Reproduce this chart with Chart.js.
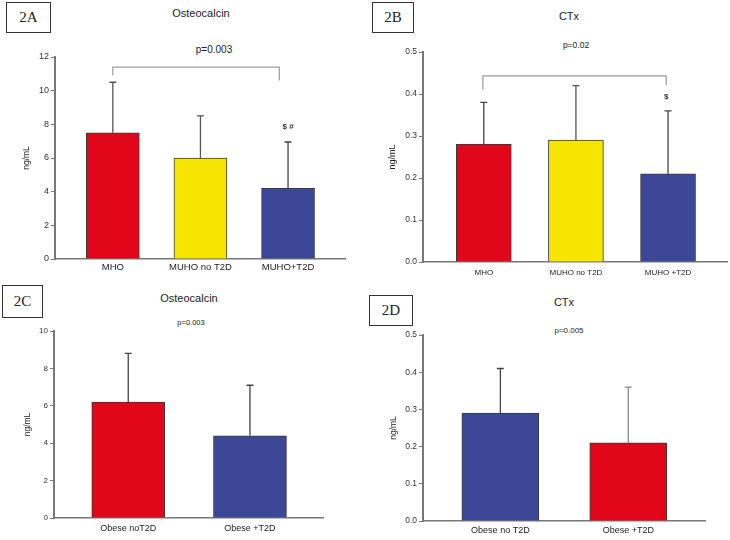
<!DOCTYPE html>
<html lang="en">
  <head>
    <meta charset="UTF-8" />
    <title>Osteocalcin and CTx</title>
    <style>
      body { margin: 0; background: #fff; }
      #page { position: relative; width: 730px; height: 540px; font-family: "Liberation Sans", Arial, sans-serif; color: #222; }
      canvas { position: absolute; }
      .tag { position: absolute; border: 1px solid #333; font-family: "Liberation Serif", "Times New Roman", serif; font-size: 15px; text-align: center; box-sizing: border-box; }
      .ttl { position: absolute; transform: translate(-50%, -50%); white-space: nowrap; }
    </style>
  </head>
  <body>
    <div id="page">
      <div class="tag" style="left:6px;top:2px;width:45px;height:31px;line-height:29px">2A</div>
      <div class="tag" style="left:372px;top:2px;width:42px;height:31px;line-height:29px">2B</div>
      <div class="tag" style="left:2px;top:285px;width:41px;height:33px;line-height:31px">2C</div>
      <div class="tag" style="left:369px;top:295px;width:44px;height:31px;line-height:29px">2D</div>

      <div class="ttl" style="left:201px;top:13px;font-size:11px">Osteocalcin</div>
      <div class="ttl" style="left:569px;top:16px;font-size:11px">CTx</div>
      <div class="ttl" style="left:189px;top:298px;font-size:11px">Osteocalcin</div>
      <div class="ttl" style="left:564px;top:302px;font-size:11px">CTx</div>

      <div class="ttl" style="left:214px;top:49px;font-size:10px">p=0.003</div>
      <div class="ttl" style="left:576px;top:45px;font-size:8.5px">p=0.02</div>
      <div class="ttl" style="left:191px;top:322px;font-size:7.5px">p=0.003</div>
      <div class="ttl" style="left:569px;top:330px;font-size:8px">p=0.005</div>

      <canvas id="cA" width="362" height="280" style="left:0;top:0"></canvas>
      <canvas id="cB" width="365" height="280" style="left:365px;top:0"></canvas>
      <canvas id="cC" width="362" height="265" style="left:0;top:275px"></canvas>
      <canvas id="cD" width="365" height="265" style="left:365px;top:275px"></canvas>
    </div>
    <script src="https://cdn.jsdelivr.net/npm/chart.js"></script>
    <script>
      // colours
      const RED = "#e2061a";
      const YELLOW = "#f6e500";
      const BLUE = "#3c4897";

      // 2A osteocalcin, three groups
      const catsA = ["MHO", "MUHO no T2D", "MUHO+T2D"];
      const meanA = [7.5, 6.0, 4.2];
      const sdA = [3.0, 2.5, 2.75];
      // 2B CTx, three groups
      const catsB = ["MHO", "MUHO no T2D", "MUHO +T2D"];
      const meanB = [0.28, 0.29, 0.21];
      const sdB = [0.1, 0.13, 0.15];
      // 2C osteocalcin, two groups
      const catsC = ["Obese noT2D", "Obese +T2D"];
      const meanC = [6.2, 4.4];
      const sdC = [2.6, 2.7];
      // 2D CTx, two groups
      const catsD = ["Obese no T2D", "Obese +T2D"];
      const meanD = [0.29, 0.21];
      const sdD = [0.12, 0.15];

      Chart.defaults.font.family = '"Liberation Sans", Arial, sans-serif';
      Chart.defaults.color = "#333";

      function makeChart(id, cfg) {
        const errPlugin = {
          id: "errbars",
          afterDatasetsDraw(chart) {
            const c = chart.ctx;
            const ys = chart.scales.y;
            const xs = chart.scales.x;
            const meta = chart.getDatasetMeta(0);
            c.save();
            c.lineWidth = 1.3;
            meta.data.forEach(function (bar, i) {
              const top = ys.getPixelForValue(cfg.mean[i] + cfg.sd[i]);
              c.strokeStyle = cfg.errColors[i];
              c.beginPath();
              c.moveTo(bar.x, bar.y);
              c.lineTo(bar.x, top);
              c.moveTo(bar.x - 3.5, top);
              c.lineTo(bar.x + 3.5, top);
              c.stroke();
            });
            // bracket between groups
            if (cfg.bracket) {
              const b = cfg.bracket;
              const x0 = xs.getPixelForValue(b.from);
              const x1 = xs.getPixelForValue(b.to);
              c.strokeStyle = "#999";
              c.lineWidth = 1.2;
              c.beginPath();
              c.moveTo(x0, ys.getPixelForValue(b.yl));
              c.lineTo(x0, ys.getPixelForValue(b.y));
              c.lineTo(x1, ys.getPixelForValue(b.y));
              c.lineTo(x1, ys.getPixelForValue(b.yr));
              c.stroke();
            }
            if (cfg.mark) {
              c.fillStyle = "#333";
              c.font = "bold 8px " + Chart.defaults.font.family;
              c.textAlign = "center";
              c.textBaseline = "middle";
              c.fillText(cfg.mark.text, xs.getPixelForValue(cfg.mark.x), ys.getPixelForValue(cfg.mark.y));
            }
            c.restore();
          },
        };

        return new Chart(document.getElementById(id), {
          type: "bar",
          data: {
            datasets: [
              {
                data: cfg.mean.map((v, i) => ({ x: i, y: v })),
                backgroundColor: cfg.colors,
                borderColor: "#3a3a3a",
                borderWidth: 1,
                borderSkipped: "bottom",
                barThickness: cfg.barW,
              },
            ],
          },
          options: {
            responsive: false,
            animation: false,
            layout: { padding: cfg.pad },
            plugins: { legend: { display: false }, tooltip: { enabled: false } },
            scales: {
              x: {
                type: "linear",
                min: cfg.xMin,
                max: cfg.xMax,
                offset: false,
                grid: { display: false, drawTicks: false, offset: false },
                border: { display: true, color: "#777", width: 1.5 },
                afterBuildTicks(s) {
                  s.ticks = cfg.cats.map((c, i) => ({ value: i }));
                },
                afterFit(s) {
                  s.height = cfg.xH;
                },
                ticks: {
                  autoSkip: false,
                  maxRotation: 0,
                  padding: cfg.xPad,
                  font: { size: cfg.xFont },
                  color: "#222",
                  callback: (v) => cfg.cats[v],
                },
              },
              y: {
                min: 0,
                max: cfg.yMax,
                grid: { drawOnChartArea: false, drawTicks: true, tickLength: 4, color: "#777" },
                border: { display: true, color: "#777", width: 2 },
                afterFit(s) {
                  s.width = cfg.yW;
                },
                ticks: {
                  stepSize: cfg.step,
                  padding: 2,
                  font: { size: cfg.yFont },
                  color: "#333",
                  callback: (v) => (cfg.step < 1 ? v.toFixed(1) : v),
                },
                title: {
                  display: true,
                  text: "ng/mL",
                  font: { size: cfg.tFont },
                  color: "#222",
                  padding: { top: cfg.tPad, bottom: 0 },
                },
              },
            },
          },
          plugins: [errPlugin],
        });
      }

      makeChart("cA", {
        cats: catsA, mean: meanA, sd: sdA,
        colors: [RED, YELLOW, BLUE], errColors: ["#555", "#555", "#444"],
        barW: 53, xMin: -0.66, xMax: 2.65, yMax: 12, step: 2,
        pad: { left: 0, top: 57, right: 17, bottom: 0 }, yW: 55, xH: 21, xPad: 3,
        xFont: 9.5, yFont: 9, tFont: 8.5, tPad: 22,
        bracket: { from: 0, to: 1.9, y: 11.4, yl: 10.9, yr: 10.6 },
        mark: { text: "$ #", x: 2, y: 7.85 },
      });
      makeChart("cB", {
        cats: catsB, mean: meanB, sd: sdB,
        colors: [RED, YELLOW, BLUE], errColors: ["#444", "#555", "#444"],
        barW: 55, xMin: -0.66, xMax: 2.64, yMax: 0.5, step: 0.1,
        pad: { left: 0, top: 52, right: 3, bottom: 0 }, yW: 58, xH: 18, xPad: 6,
        xFont: 8, yFont: 8.5, tFont: 9, tPad: 22,
        bracket: { from: -0.01, to: 1.98, y: 0.443, yl: 0.41, yr: 0.421 },
        mark: { text: "$", x: 1.98, y: 0.393 },
      });
      makeChart("cC", {
        cats: catsC, mean: meanC, sd: sdC,
        colors: [RED, BLUE], errColors: ["#444", "#444"],
        barW: 73, xMin: -0.61, xMax: 1.6, yMax: 10, step: 2,
        pad: { left: 0, top: 56, right: 39, bottom: 0 }, yW: 54, xH: 22, xPad: 5,
        xFont: 9, yFont: 8, tFont: 8.5, tPad: 23,
        bracket: null, mark: null,
      });
      makeChart("cD", {
        cats: catsD, mean: meanD, sd: sdD,
        colors: [BLUE, RED], errColors: ["#444", "#888"],
        barW: 77, xMin: -0.605, xMax: 1.6, yMax: 0.5, step: 0.1,
        pad: { left: 0, top: 60, right: 25, bottom: 0 }, yW: 58, xH: 19, xPad: 4,
        xFont: 9, yFont: 8.5, tFont: 8.5, tPad: 24,
        bracket: null, mark: null,
      });
    </script>
  </body>
</html>
